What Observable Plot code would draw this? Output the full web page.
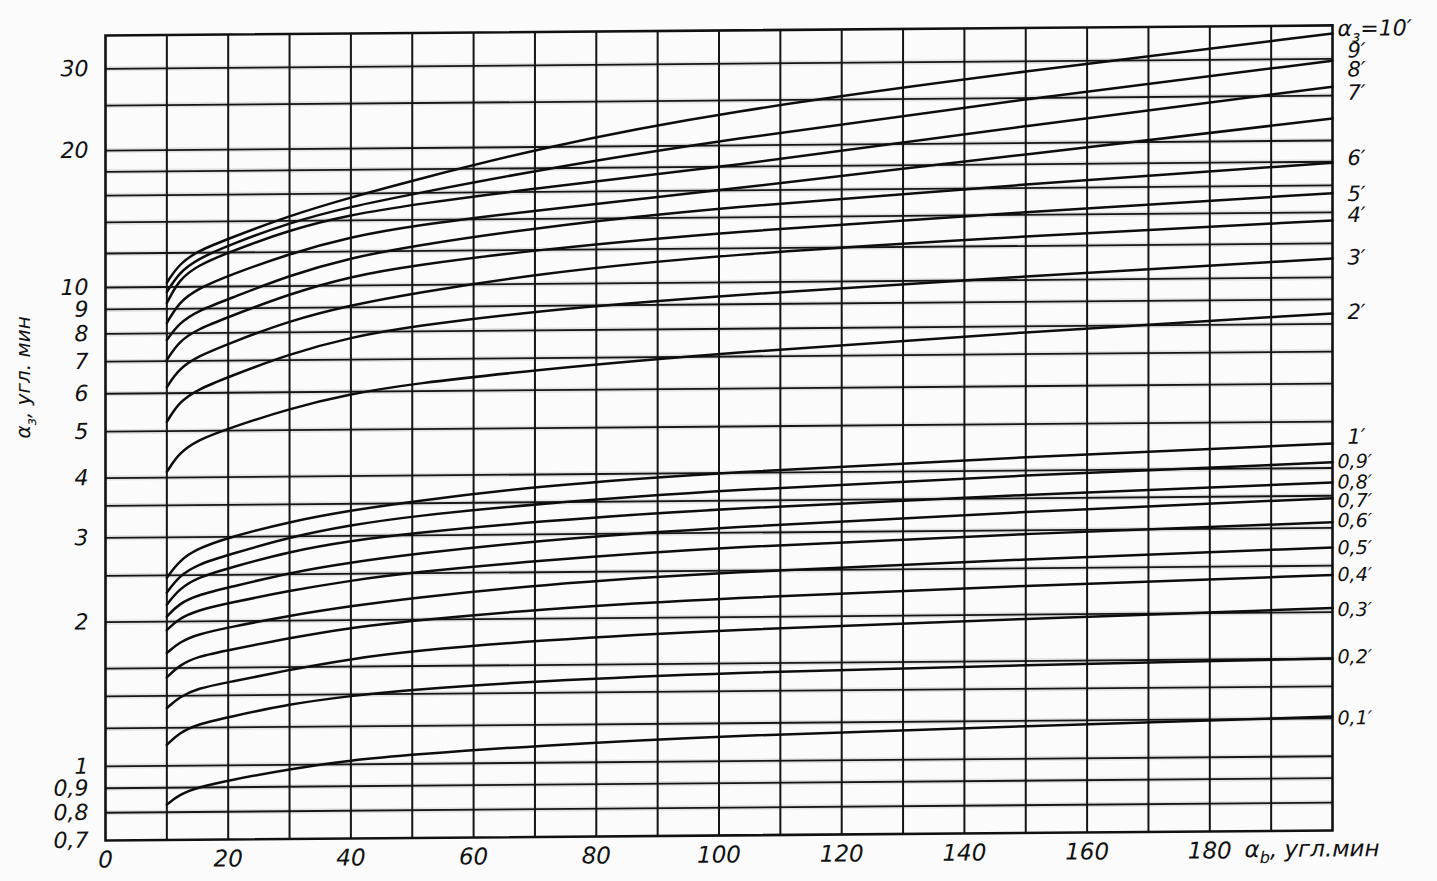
<!DOCTYPE html>
<html>
<head>
<meta charset="utf-8">
<script src="https://cdn.jsdelivr.net/npm/d3@7"></script>
<script src="https://cdn.jsdelivr.net/npm/@observablehq/plot@0.6"></script>
<style>
  html, body { margin: 0; padding: 0; background: #fbfbfb; }
  #chart svg { display: block; transform: skewY(-0.47deg); transform-origin: 105px 0px; }
</style>
</head>
<body>
<div id="chart"></div>
<script>
// ---- data ----
const xs = [10, 12, 15, 20, 30, 40, 50, 70, 100, 150, 200];

const a10 = [10.24, 11.3, 12.1, 12.84, 14.38, 15.7, 17.0, 19.8, 23.6, 28.6, 34.0];
const a9  = [9.76, 10.8, 11.6, 12.42, 13.9, 15.0, 15.9, 17.8, 20.5, 24.9, 29.7];
const a8  = [9.26, 10.4, 11.2, 12.0, 13.4, 14.4, 15.1, 16.3, 17.9, 21.8, 26.1];
const a7  = [8.41, 9.3, 9.9, 10.6, 11.9, 12.9, 13.6, 14.6, 16.0, 18.9, 22.3];
const a6  = [7.75, 8.4, 8.9, 9.4, 10.6, 11.6, 12.3, 13.4, 14.7, 16.3, 17.9];
const a5  = [7.04, 7.7, 8.15, 8.63, 9.63, 10.5, 11.1, 12.0, 13.0, 14.2, 15.4];
const a4  = [6.18, 6.75, 7.15, 7.59, 8.47, 9.1, 9.6, 10.55, 11.6, 12.6, 13.45];
const a3  = [5.23, 5.75, 6.1, 6.47, 7.22, 7.8, 8.2, 8.78, 9.39, 10.2, 11.07];
const a2  = [4.11, 4.5, 4.78, 5.05, 5.55, 5.94, 6.22, 6.61, 7.11, 7.79, 8.41];
const a1  = [2.47, 2.68, 2.84, 2.99, 3.22, 3.39, 3.53, 3.78, 4.01, 4.27, 4.5];
const a09 = [2.3, 2.49, 2.63, 2.75, 2.99, 3.16, 3.29, 3.47, 3.68, 3.91, 4.11];
const a08 = [2.17, 2.34, 2.47, 2.58, 2.79, 2.93, 3.03, 3.19, 3.37, 3.56, 3.73];
const a07 = [2.05, 2.18, 2.27, 2.35, 2.52, 2.64, 2.74, 2.91, 3.08, 3.28, 3.46];
const a06 = [1.92, 2.03, 2.11, 2.18, 2.31, 2.42, 2.51, 2.64, 2.8, 2.95, 3.08];
const a05 = [1.72, 1.81, 1.88, 1.94, 2.05, 2.14, 2.22, 2.35, 2.48, 2.61, 2.73];
const a04 = [1.53, 1.62, 1.69, 1.74, 1.84, 1.93, 1.99, 2.09, 2.19, 2.3, 2.39];
const a03 = [1.32, 1.39, 1.45, 1.49, 1.58, 1.66, 1.72, 1.8, 1.88, 1.96, 2.04];
const a02 = [1.106, 1.17, 1.22, 1.26, 1.34, 1.39, 1.43, 1.48, 1.53, 1.57, 1.6];
const a01 = [0.83, 0.87, 0.9, 0.93, 0.98, 1.02, 1.045, 1.085, 1.13, 1.17, 1.21];

const curveValues = [a10, a9, a8, a7, a6, a5, a4, a3, a2, a1, a09, a08, a07, a06, a05, a04, a03, a02, a01];
const curveLabels = ["α_з=10′", "9′", "8′", "7′", "6′", "5′", "4′", "3′", "2′", "1′",
                     "0,9′", "0,8′", "0,7′", "0,6′", "0,5′", "0,4′", "0,3′", "0,2′", "0,1′"];
const labelAt = [34.8, 31.2, 28.4, 25.3, 18.3, 15.3, 13.8, 11.1, 8.45, 4.64,
                 4.12, 3.73, 3.41, 3.1, 2.72, 2.39, 2.02, 1.61, 1.2];

const yGrid = [0.8, 0.9, 1, 1.2, 1.4, 1.6, 2, 2.5, 3, 3.5, 4, 5, 6, 7, 8, 9, 10, 12, 14, 16, 18, 20, 25, 30];
const xGrid = [10, 20, 30, 40, 50, 60, 70, 80, 90, 100, 110, 120, 130, 140, 150, 160, 170, 180, 190];
const yTicks = [30, 20, 10, 9, 8, 7, 6, 5, 4, 3, 2, 1, 0.9, 0.8, 0.7];
const xTicks = [0, 20, 40, 60, 80, 100, 120, 140, 160, 180];
const yTitle = "α_з, угл. мин";
const xTitle = "α_b, угл.мин";

// ---- tables built from the arrays ----
const rows = curveValues.flatMap((vals, k) => xs.map((x, i) => ({alpha: curveLabels[k], x, y: vals[i]})));
const labelRows = curveLabels.map((label, k) => ({label, at: labelAt[k]}));
const isTop = d => d.label.startsWith("α");
const isWhole = d => !d.label.includes(",") && !isTop(d);
const isDecimal = d => d.label.includes(",");
const fmt = d => String(d).replace(".", ",");

const font = {fontFamily: "DejaVu Sans", fontStyle: "italic", fill: "#111"};

const chart = Plot.plot({
  width: 1437,
  height: 881,
  marginLeft: 105,
  marginRight: 105,
  marginTop: 35,
  marginBottom: 41,
  style: "background: transparent; font-family: 'DejaVu Sans'; overflow: visible;",
  x: {domain: [0, 200], axis: null},
  y: {type: "log", domain: [0.7, 10, 12, 35.4], range: [840, 287, 253, 35], axis: null},
  marks: [
    Plot.ruleY(yGrid, {stroke: "#8a8a8a", strokeWidth: 5, strokeOpacity: 0.22}),
    Plot.ruleY(yGrid, {stroke: "#151515", strokeWidth: 1.8}),
    Plot.ruleX(xGrid, {stroke: "#151515", strokeWidth: 2}),
    Plot.frame({stroke: "#111", strokeWidth: 2.6}),
    Plot.line(rows, {x: "x", y: "y", z: "alpha", stroke: "#0d0d0d", strokeWidth: 2.5, curve: "basis"}),
    // y tick labels
    Plot.text(yTicks, {x: 0, y: d => d, text: fmt, textAnchor: "end", dx: -17, fontSize: 22, ...font}),
    // x tick labels
    Plot.text(xTicks, {x: d => d, frameAnchor: "bottom", text: d => String(d), dy: 27, fontSize: 23, ...font}),
    // curve labels at the right
    Plot.text(labelRows.filter(isTop), {x: 200, y: "at", text: "label", textAnchor: "start", dx: 5, fontSize: 22, ...font}),
    Plot.text(labelRows.filter(isWhole), {x: 200, y: "at", text: "label", textAnchor: "start", dx: 15, fontSize: 21, ...font}),
    Plot.text(labelRows.filter(isDecimal), {x: 200, y: "at", text: "label", textAnchor: "start", dx: 5, fontSize: 19, ...font}),
    // axis titles
    Plot.text([yTitle], {frameAnchor: "left", text: d => d, rotate: -90, dx: -82, fontSize: 20, ...font}),
    Plot.text([xTitle], {frameAnchor: "bottom-right", text: d => d, textAnchor: "start", dx: -88, dy: 26, fontSize: 23, ...font})
  ]
});

// render "_x" as a subscript
d3.select(chart).selectAll("text").each(function () {
  const t = this.textContent;
  const i = t.indexOf("_");
  if (i < 0) return;
  const sel = d3.select(this);
  sel.text(null);
  sel.append("tspan").text(t.slice(0, i));
  sel.append("tspan").attr("dy", 6).attr("font-size", "0.7em").text(t[i + 1]);
  sel.append("tspan").attr("dy", -6).text(t.slice(i + 2));
});

document.getElementById("chart").appendChild(chart);
</script>
</body>
</html>
